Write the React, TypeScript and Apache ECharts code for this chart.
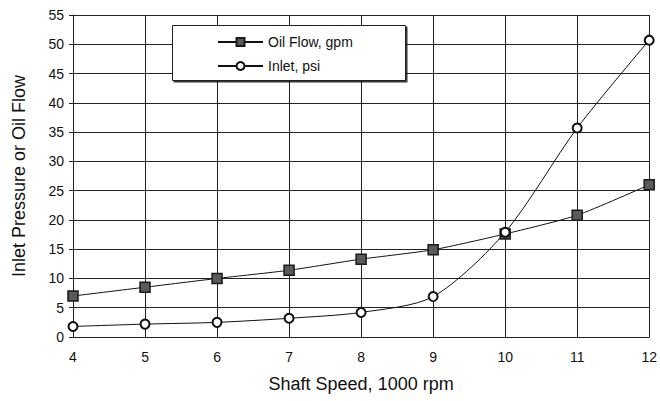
import React, { useEffect, useRef } from "react";
import * as echarts from "echarts";

const speeds = [4, 5, 6, 7, 8, 9, 10, 11, 12];
const oilFlow = [7.0, 8.5, 10.0, 11.4, 13.3, 14.9, 17.6, 20.8, 26.0];
const inletPsi = [1.8, 2.2, 2.5, 3.2, 4.2, 6.9, 17.9, 35.7, 50.7];
const seriesNames = ["Oil Flow, gpm", "Inlet, psi"];

export default function App() {
  const ref = useRef<HTMLDivElement>(null);
  useEffect(() => {
    const chart = echarts.init(ref.current!, null, { renderer: "svg" });
    const font = "Liberation Sans, Arial, sans-serif";
    chart.setOption({
      animation: false,
      backgroundColor: "#fff",
      textStyle: { fontFamily: font },
      grid: { left: 73, right: 8, top: 15, bottom: 64 },
      xAxis: {
        type: "value",
        min: 4,
        max: 12,
        interval: 1,
        name: "Shaft Speed, 1000 rpm",
        nameLocation: "middle",
        nameGap: 38,
        nameTextStyle: { fontSize: 18, color: "#111", fontFamily: font },
        axisLine: { lineStyle: { color: "#222", width: 1 } },
        axisTick: { show: false },
        axisLabel: { fontSize: 14, color: "#111", margin: 13, fontFamily: font },
        splitLine: { show: true, lineStyle: { color: "#222", width: 1 } },
      },
      yAxis: {
        type: "value",
        min: 0,
        max: 55,
        interval: 5,
        name: "Inlet Pressure or Oil Flow",
        nameLocation: "middle",
        nameGap: 45,
        nameTextStyle: { fontSize: 18, color: "#111", fontFamily: font },
        axisLine: { show: true, lineStyle: { color: "#222", width: 1 } },
        axisTick: { show: true, length: 4, lineStyle: { color: "#222" } },
        axisLabel: { fontSize: 14, color: "#111", margin: 9, fontFamily: font },
        splitLine: { show: true, lineStyle: { color: "#222", width: 1 } },
      },
      graphic: [
        {
          type: "rect",
          left: 172,
          top: 25,
          shape: { width: 233, height: 55 },
          style: {
            fill: "#fff",
            stroke: "#222",
            lineWidth: 1,
            shadowColor: "rgba(0,0,0,0.8)",
            shadowOffsetX: 1.5,
            shadowOffsetY: 1.5,
            shadowBlur: 0,
          },
          z: 100,
        },
      ],
      legend: {
        orient: "vertical",
        left: 212,
        top: 30,
        itemWidth: 45,
        itemHeight: 10,
        itemGap: 10,
        z: 110,
        textStyle: { fontSize: 14, color: "#111", fontFamily: font },
        data: seriesNames,
      },
      series: [
        {
          name: seriesNames[0],
          type: "line",
          data: speeds.map((s, i) => [s, oilFlow[i]]),
          smooth: 0.2,
          symbol: "rect",
          symbolSize: 10,
          lineStyle: { color: "#111", width: 1 },
          itemStyle: { color: "#5a5a5a", borderColor: "#1a1a1a", borderWidth: 1.5 },
          z: 5,
        },
        {
          name: seriesNames[1],
          type: "line",
          data: speeds.map((s, i) => [s, inletPsi[i]]),
          smooth: 0.28,
          symbol: "circle",
          symbolSize: 9,
          lineStyle: { color: "#111", width: 1 },
          itemStyle: { color: "#fff", borderColor: "#111", borderWidth: 2 },
          z: 6,
        },
      ],
    });
    return () => chart.dispose();
  }, []);
  return <div ref={ref} style={{ width: 660, height: 401, position: "absolute", left: 0, top: 0 }} />;
}
